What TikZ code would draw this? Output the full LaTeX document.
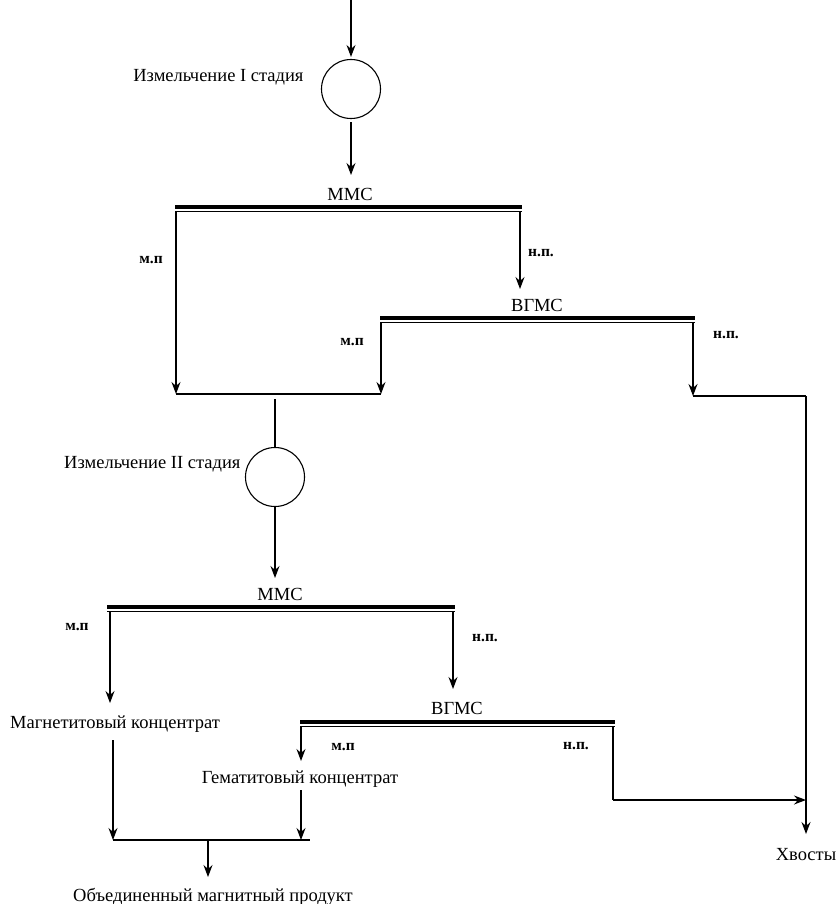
\documentclass[tikz,border=0pt]{standalone}
\usepackage{fontspec}
\setmainfont{Liberation Serif}
\usetikzlibrary{arrows.meta, positioning}

\begin{document}
\begin{tikzpicture}[
    x=1pt, y=-1pt,
    line width=1.1pt,
    mill/.style={circle, draw, minimum size=59pt, inner sep=0pt},
    lbl/.style={inner sep=0pt, font=\fontsize{18.5}{22}\selectfont},
    flow/.style={inner sep=0pt, font=\fontsize{15.5}{18}\selectfont\bfseries},
    bar/.style={line width=3.8pt},
    arrow/.style={-{Stealth[length=12pt, width=9pt, inset=4pt]}}
]
    \useasboundingbox (0,0) rectangle (836,904);

    \coordinate (feed) at (351,0);
    \node[mill] (mill1) at (351,89) {};
    \node[lbl, anchor=east] (mill1lbl) at (304,77) {Измельчение I стадия};
    \coordinate (mms1in) at (351,175);
    \node[lbl] (mms1) at (350,194) {ММС};
    \coordinate (b1l) at (175,207);
    \coordinate (b1r) at (522,207);
    \coordinate (b1lt) at (176,212);
    \coordinate (b1rt) at (520,212);
    \coordinate (join1l) at (176,394);
    \coordinate (b1out) at (520,289);
    \node[flow] (mp1) at (151,260) {м.п};
    \node[flow] (np1) at (541,253) {н.п.};

    \node[lbl] (vgms1) at (537,305) {ВГМС};
    \coordinate (b2l) at (380,318);
    \coordinate (b2r) at (695,318);
    \coordinate (b2lt) at (381,323);
    \coordinate (b2rt) at (693,323);
    \coordinate (join1r) at (381,394);
    \coordinate (tail1) at (693,396);
    \coordinate (tailturn) at (806,396);
    \node[flow] (mp2) at (352,342) {м.п};
    \node[flow] (np2) at (726,335) {н.п.};

    \coordinate (join1mid) at (275,399);
    \node[mill] (mill2) at (275,477) {};
    \node[lbl, anchor=east] (mill2lbl) at (241,464) {Измельчение II стадия};
    \coordinate (mms2in) at (275,578);
    \node[lbl] (mms2) at (280,594) {ММС};
    \coordinate (b3l) at (107,607);
    \coordinate (b3r) at (455,607);
    \coordinate (b3lt) at (110,612);
    \coordinate (b3rt) at (453,612);
    \coordinate (b3lout) at (110,703);
    \coordinate (b3out) at (453,689);
    \node[flow] (mp3) at (77,627) {м.п};
    \node[flow] (np3) at (485,638) {н.п.};
    \node[lbl] (magconc) at (115,724) {Магнетитовый концентрат};
    \coordinate (magout) at (113,740);

    \node[lbl] (vgms2) at (457,708) {ВГМС};
    \coordinate (b4l) at (300,722);
    \coordinate (b4r) at (615,722);
    \coordinate (b4lt) at (301,727);
    \coordinate (b4rt) at (613,727);
    \coordinate (b4lout) at (301,761);
    \coordinate (b4out) at (613,800);
    \node[flow] (mp4) at (343,747) {м.п};
    \node[flow] (np4) at (576,746) {н.п.};
    \node[lbl] (hemconc) at (300,779) {Гематитовый концентрат};
    \coordinate (hemout) at (301,790);

    \coordinate (join2l) at (113,840);
    \coordinate (join2h) at (301,840);
    \coordinate (join2r) at (310,840);
    \coordinate (join2mid) at (208,840);
    \coordinate (prodin) at (208,877);
    \node[lbl] (product) at (213,897) {Объединенный магнитный продукт};
    \coordinate (tailin) at (806,800);
    \coordinate (tailout) at (806,834);
    \node[lbl] (tails) at (806,855) {Хвосты};

    \draw[bar] (b1l) -- (b1r);
    \draw[line width=0.8pt] ([yshift=-4.5pt]b1l) -- ([yshift=-4.5pt]b1r);
    \draw[bar] (b2l) -- (b2r);
    \draw[line width=0.8pt] ([yshift=-4.5pt]b2l) -- ([yshift=-4.5pt]b2r);
    \draw[bar] (b3l) -- (b3r);
    \draw[line width=0.8pt] ([yshift=-4.5pt]b3l) -- ([yshift=-4.5pt]b3r);
    \draw[bar] (b4l) -- (b4r);
    \draw[line width=0.8pt] ([yshift=-4.5pt]b4l) -- ([yshift=-4.5pt]b4r);

    \draw[arrow] (feed) -- ([yshift=2pt]mill1.north);
    \draw[arrow] ([yshift=-3pt]mill1.south) -- (mms1in);
    \draw[arrow] (b1lt) -- (join1l);
    \draw[arrow] (b1rt) -- (b1out);
    \draw[arrow] (b2lt) -- (join1r);
    \draw[arrow] (b2rt) -- (tail1);
    \draw (join1l) -- (join1r);
    \draw (tail1) -- (tailturn);
    \draw[arrow] (tailturn) -- (tailout);
    \draw (join1mid) -- (mill2.north);
    \draw[arrow] (mill2.south) -- (mms2in);
    \draw[arrow] (b3lt) -- (b3lout);
    \draw[arrow] (b3rt) -- (b3out);
    \draw[arrow] (b4lt) -- (b4lout);
    \draw (b4rt) -- (b4out);
    \draw[arrow] (b4out) -- (tailin);
    \draw[arrow] (magout) -- (join2l);
    \draw[arrow] (hemout) -- (join2h);
    \draw (join2l) -- (join2r);
    \draw[arrow] (join2mid) -- (prodin);
\end{tikzpicture}
\end{document}
